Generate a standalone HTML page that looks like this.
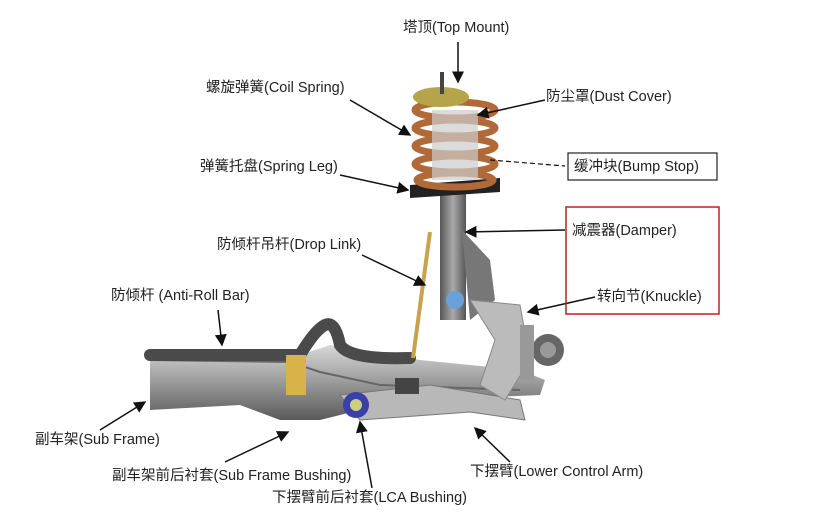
<!DOCTYPE html>
<html><head><meta charset="utf-8"><style>
body{margin:0;background:#fff;width:820px;height:522px;overflow:hidden;position:relative;font-family:"Liberation Sans","Noto Sans CJK SC",sans-serif;}
.l{position:absolute;font-size:14.5px;color:#222;white-space:nowrap;line-height:16px}
svg{position:absolute;left:0;top:0}
</style></head><body>
<svg width="820" height="522" viewBox="0 0 820 522">
<defs>
<linearGradient id="g1" x1="0" y1="0" x2="0" y2="1"><stop offset="0" stop-color="#d8d8d8"/><stop offset="0.5" stop-color="#9a9a9a"/><stop offset="1" stop-color="#5a5a5a"/></linearGradient>
<linearGradient id="g2" x1="0" y1="0" x2="1" y2="0"><stop offset="0" stop-color="#555"/><stop offset="0.5" stop-color="#aaa"/><stop offset="1" stop-color="#555"/></linearGradient>
<marker id="a" markerWidth="8" markerHeight="8" refX="7" refY="4" orient="auto"><path d="M0,0 L8,4 L0,8 z" fill="#111"/></marker>
</defs>
<path d="M150,352 L300,355 L330,345 L420,360 L520,370 L545,380 L540,395 L420,400 L360,410 L320,420 L280,420 L240,405 L150,410 z" fill="url(#g1)"/>
<path d="M150,360 L290,362 L320,372 L380,385 L520,390" stroke="#666" stroke-width="2" fill="none"/>
<path d="M150,355 L300,355 Q315,330 325,325 Q335,320 340,345 Q350,360 410,358" stroke="#4a4a4a" stroke-width="12" fill="none" stroke-linecap="round"/>
<path d="M340,395 L430,385 L520,400 L525,420 L470,412 L360,420 z" fill="#b8b8b8" stroke="#777"/>
<rect x="286" y="355" width="20" height="40" fill="#d8b24a"/>
<circle cx="356" cy="405" r="13" fill="#3b3fa8"/><circle cx="356" cy="405" r="6" fill="#cfcf80"/>
<rect x="395" y="378" width="24" height="16" fill="#444"/>
<line x1="430" y1="232" x2="413" y2="358" stroke="#c9a24b" stroke-width="4"/>
<rect x="440" y="190" width="26" height="130" fill="url(#g2)"/>
<path d="M462,230 L490,260 L495,300 L470,320 z" fill="#777"/>
<circle cx="455" cy="300" r="9" fill="#6aa0d8"/>
<path d="M470,300 L520,305 L530,360 L505,400 L480,385 L495,340 z" fill="#bbb" stroke="#888"/>
<circle cx="548" cy="350" r="16" fill="#666"/><circle cx="548" cy="350" r="8" fill="#999"/>
<rect x="520" y="325" width="14" height="55" fill="#999"/>
<path d="M410,185 L500,178 L500,192 L410,198 z" fill="#222"/>
<g stroke="#b06a3a" stroke-width="7" fill="none">
<ellipse cx="455" cy="110" rx="40" ry="8"/><ellipse cx="455" cy="128" rx="40" ry="8"/><ellipse cx="455" cy="146" rx="40" ry="8"/><ellipse cx="455" cy="164" rx="40" ry="8"/><ellipse cx="455" cy="180" rx="38" ry="7"/>
</g>
<rect x="432" y="110" width="46" height="70" fill="#ccc" opacity="0.7"/>
<ellipse cx="441" cy="97" rx="28" ry="10" fill="#b5a44a"/>
<rect x="440" y="72" width="4" height="22" fill="#444"/>
<g stroke="#111" stroke-width="1.5" fill="none" marker-end="url(#a)">
<line x1="458" y1="42" x2="458" y2="82"/>
<line x1="350" y1="100" x2="410" y2="135"/>
<line x1="545" y1="100" x2="478" y2="115"/>
<line x1="340" y1="175" x2="408" y2="190"/>
<line x1="565" y1="230" x2="466" y2="232"/>
<line x1="362" y1="255" x2="425" y2="285"/>
<line x1="595" y1="297" x2="528" y2="312"/>
<line x1="218" y1="310" x2="222" y2="345"/>
<line x1="100" y1="430" x2="145" y2="402"/>
<line x1="225" y1="462" x2="288" y2="432"/>
<line x1="372" y1="488" x2="360" y2="422"/>
<line x1="510" y1="462" x2="475" y2="428"/>
</g>
<line x1="490" y1="160" x2="565" y2="166" stroke="#111" stroke-width="1.2" stroke-dasharray="5,3"/>
<rect x="568" y="153" width="149" height="27" fill="none" stroke="#222" stroke-width="1.2"/>
<rect x="566" y="207" width="153" height="107" fill="none" stroke="#b22" stroke-width="1.5"/>
</svg>
<div class="l" style="left:403px;top:20px">塔顶(Top Mount)</div>
<div class="l" style="left:206px;top:80px">螺旋弹簧(Coil Spring)</div>
<div class="l" style="left:546px;top:89px">防尘罩(Dust Cover)</div>
<div class="l" style="left:574px;top:159px">缓冲块(Bump Stop)</div>
<div class="l" style="left:200px;top:159px">弹簧托盘(Spring Leg)</div>
<div class="l" style="left:572px;top:223px">减震器(Damper)</div>
<div class="l" style="left:217px;top:237px">防倾杆吊杆(Drop Link)</div>
<div class="l" style="left:597px;top:289px">转向节(Knuckle)</div>
<div class="l" style="left:111px;top:288px">防倾杆 (Anti-Roll Bar)</div>
<div class="l" style="left:35px;top:432px">副车架(Sub Frame)</div>
<div class="l" style="left:112px;top:468px">副车架前后衬套(Sub Frame Bushing)</div>
<div class="l" style="left:470px;top:464px">下摆臂(Lower Control Arm)</div>
<div class="l" style="left:272px;top:490px">下摆臂前后衬套(LCA Bushing)</div>
</body></html>
